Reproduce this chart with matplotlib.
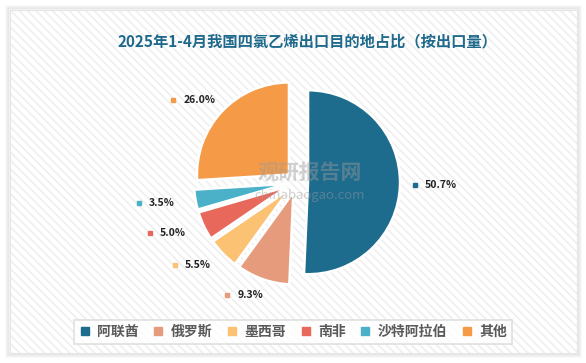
import numpy as np
import matplotlib
matplotlib.use("Agg")
import matplotlib.pyplot as plt
from matplotlib.patches import Rectangle
from matplotlib.lines import Line2D

plt.rcParams['font.family'] = ['Noto Sans CJK SC', 'DejaVu Sans']
plt.rcParams['hatch.linewidth'] = 1.2

# data
title = "2025年1-4月我国四氯乙烯出口目的地占比（按出口量）"
countries = ["阿联酋", "俄罗斯", "墨西哥", "南非", "沙特阿拉伯", "其他"]
shares = [50.7, 9.3, 5.5, 5.0, 3.5, 26.0]
colors = ["#1d6c8e", "#e69b7d", "#fcc273", "#e8695c", "#4bb1c9", "#f59b47"]

W, H = 586, 363
fig = plt.figure(figsize=(W / 100, H / 100), dpi=100)
fig.patch.set_facecolor("white")
ax = fig.add_axes([0, 0, 1, 1])

# card with soft shadow and diagonal pattern
x0, y0, x1, y1 = 10, 10, 577, 353
for k, a in enumerate([0.05, 0.04, 0.03, 0.02]):
    ax.add_patch(Rectangle((x0 - k - 1, H - y1 - k - 1), x1 - x0 + 2 * k + 2, y1 - y0 + 2 * k + 2,
                           facecolor="none", edgecolor="black", alpha=a, lw=1.5, zorder=0))
ax.add_patch(Rectangle((x0, H - y1), x1 - x0, y1 - y0, facecolor="white",
                       edgecolor="#efefef", hatch="\\\\\\\\", lw=0, zorder=0.5))
ax.add_patch(Rectangle((x0, H - y1), x1 - x0, y1 - y0, facecolor="none",
                       edgecolor="#e6e6e6", lw=0.8, zorder=0.6))

# pie (explode is in data units, so scale by radius)
cx, cy, R = 297, H - 182, 92
wedges, _ = ax.pie(shares, colors=colors, startangle=90, counterclock=False,
                   radius=R, center=(cx, cy), explode=[0.12 * R] * len(shares),
                   wedgeprops=dict(edgecolor="white", linewidth=1.8), frame=True)
for w in wedges:
    w.set_zorder(2)
ax.set_xlim(0, W)
ax.set_ylim(0, H)
ax.set_aspect("equal")
ax.axis("off")

# labels
for w, v, c in zip(wedges, shares, colors):
    mid = np.deg2rad((w.theta1 + w.theta2) / 2)
    lx = cx + 1.47 * R * np.cos(mid)
    ly = cy + 1.3 * R * np.sin(mid)
    txt = f"{v:.1f}%"
    if np.cos(mid) > 0:
        ax.plot(lx - 17, ly, "s", ms=3.5, color=c, zorder=3)
        ax.text(lx - 7, ly, txt, ha="left", va="center", fontsize=7.5,
                fontweight="bold", color="#222222", zorder=3)
    else:
        ax.plot(lx - 25, ly, "s", ms=3.5, color=c, zorder=3)
        ax.text(lx - 15, ly, txt, ha="left", va="center", fontsize=7.5,
                fontweight="bold", color="#222222", zorder=3)

# watermark
ax.text(310, H - 172, "观研报告网", ha="center", va="center", fontsize=15,
        fontweight="bold", color="#9a9a9a", alpha=0.45, zorder=4)
ax.text(310, H - 196, "chinabaogao.com", ha="center", va="center", fontsize=9.5,
        color="#9a9a9a", alpha=0.45, zorder=4)

# title
ax.text(307, H - 41, title, ha="center", va="center", fontsize=11,
        fontweight="bold", color="#1f6a8c", zorder=4)

# legend
handles = [Line2D([], [], marker="s", ls="none", ms=6, color=c) for c in colors]
leg = fig.legend(handles, countries, ncol=6, loc="center",
                 bbox_to_anchor=(293 / W, 1 - 332 / H), frameon=True, fancybox=False,
                 handlelength=0.8, handletextpad=0.5, columnspacing=1.0,
                 borderpad=0.35, prop=dict(weight="bold", size=10))
leg.get_frame().set_edgecolor("#d9d9d9")
leg.get_frame().set_linewidth(1.2)
for t in leg.get_texts():
    t.set_color("#595959")

fig.savefig("out.png", dpi=100, facecolor="white")
